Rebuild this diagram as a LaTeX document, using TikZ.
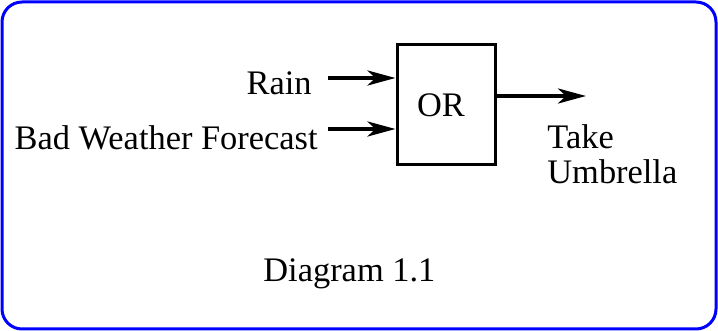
\documentclass[tikz,border=0pt]{standalone}
\usepackage{fontspec}
\setmainfont{Liberation Serif}
\usepackage{tikz}
\usetikzlibrary{arrows.meta,positioning}
\definecolor{frameblue}{RGB}{0,0,255}

\begin{document}
\begin{tikzpicture}[x=0.5pt,y=-0.5pt,>={Stealth[length=14pt,width=7.5pt,inset=4pt]},
    font=\rmfamily\fontsize{17.2}{17.5}\selectfont]
  \tikzset{
    txt/.style={inner sep=0pt},
    gate/.style={draw,line width=1.5pt,minimum width=49pt,minimum height=60pt,inner sep=0pt},
    flow/.style={->,line width=2pt}}
  \useasboundingbox (0,0) rectangle (718,331);
  \draw[frameblue,line width=1.5pt,rounded corners=10pt] (2,2) rectangle (716,329);
  \node[gate] (orgate) at (446,105) {\hspace*{-5pt}OR};
  \coordinate (in1) at (328,78);
  \coordinate (in2) at (328,129);
  \coordinate (out) at (586,96);
  \node[txt,anchor=base east] (rain) at (312,95) {Rain};
  \node[txt,anchor=base east] (forecast) at (318,150) {Bad Weather Forecast};
  \node[txt,anchor=north west,align=left] (umbrella) at (547,124) {Take\\Umbrella};
  \node[txt,anchor=base west] (caption) at (263,282) {Diagram 1.1};
  \draw[flow] (in1) -- (in1 -| orgate.west);
  \draw[flow] (in2) -- (in2 -| orgate.west);
  \draw[flow] (orgate.east |- out) -- (out);
\end{tikzpicture}
\end{document}
